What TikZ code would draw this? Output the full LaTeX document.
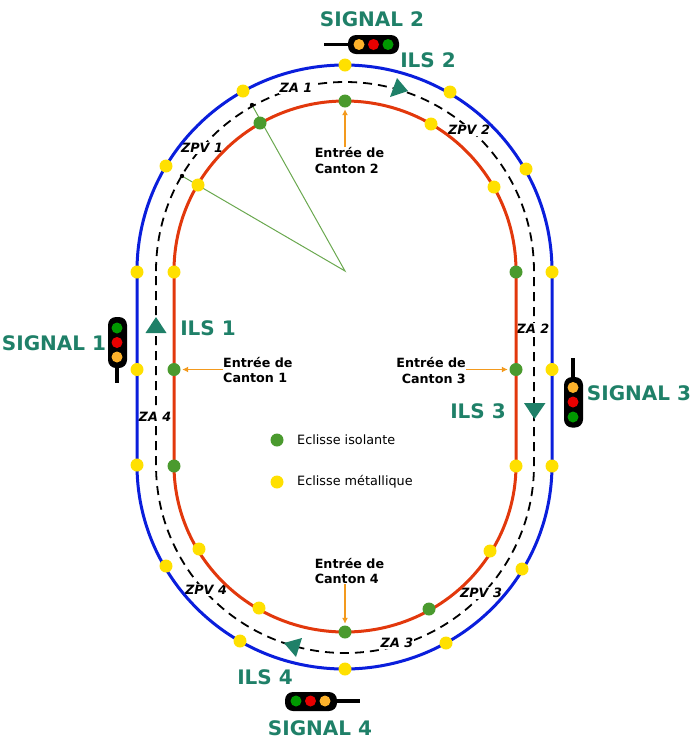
\documentclass[tikz,border=0pt]{standalone}
\usepackage{fontspec}
\setmainfont{DejaVu Sans}
\usepackage[HTML]{xcolor}
\usetikzlibrary{positioning, arrows, arrows.meta}
\definecolor{rail}{HTML}{E2380C}
\definecolor{voie}{HTML}{0A1EDC}
\definecolor{titre}{HTML}{1F8068}
\definecolor{isol}{HTML}{4A9A2E}
\definecolor{metal}{HTML}{FFE000}
\definecolor{fleche}{HTML}{F39A1E}
\definecolor{rayon}{HTML}{6AA84F}
\definecolor{feuO}{HTML}{FDB22B}
\definecolor{feuR}{HTML}{E80000}
\definecolor{feuV}{HTML}{009900}
\tikzset{
  iso/.style={circle,fill=isol,inner sep=0pt,minimum size=13pt},
  met/.style={circle,fill=metal,inner sep=0pt,minimum size=13pt},
  nomsig/.style={text=titre,font=\fontsize{20}{24}\selectfont\bfseries,inner sep=0pt},
  zone/.style={font=\fontsize{12.8}{14}\selectfont\bfseries\itshape,fill=white,inner sep=1pt},
  entree/.style={font=\fontsize{12.7}{15.5}\selectfont\bfseries,inner sep=0pt},
  legende/.style={font=\fontsize{12.8}{14}\selectfont,anchor=west,inner sep=0pt},
  entarrow/.style={fleche,line width=1.8pt,-{Latex[length=6pt,width=6pt]},shorten >=1.5pt},
}
\begin{document}
\begin{tikzpicture}[x=1pt,y=-1pt]
\useasboundingbox (0,0) rectangle (700,748);

% voie ZA, sous les etiquettes
\draw[black,line width=1.8pt,dash pattern=on 9pt off 6pt] (156,271) arc[start angle=180,end angle=360,x radius=189,y radius=189]
  -- (534,465) arc[start angle=0,end angle=180,x radius=189,y radius=188] -- cycle;

% zones
\node[zone] (za1) at (296,88) {ZA 1};
\node[zone] (za2) at (533,329) {ZA 2};
\node[zone] (za3) at (397,643) {ZA 3};
\node[zone] (za4) at (155,417) {ZA 4};
\node[zone] (zpv1) at (202,148) {ZPV 1};
\node[zone] (zpv2) at (469,130) {ZPV 2};
\node[zone] (zpv3) at (481,593) {ZPV 3};
\node[zone] (zpv4) at (206,590) {ZPV 4};

% voies
\draw[voie,line width=3pt] (137,271) arc[start angle=180,end angle=360,x radius=207.5,y radius=206]
  -- (552,465) arc[start angle=0,end angle=180,x radius=207.5,y radius=204] -- cycle;
\draw[rail,line width=3pt] (174,271) arc[start angle=180,end angle=360,x radius=171,y radius=170]
  -- (516,465) arc[start angle=0,end angle=180,x radius=171,y radius=167] -- cycle;

% rayons ZPV
\coordinate (C) at (345,271);
\coordinate (Z1) at (182,176);
\coordinate (Z2) at (252,105);
\draw[rayon,line width=1pt] (Z1) -- (C) -- (Z2);
\fill (Z1) circle(2.2);
\fill (Z2) circle(2.2);

% eclisses metalliques
\node[met] (B1) at (345,65) {};
\node[met] (B2) at (450,92) {};
\node[met] (B3) at (526,169) {};
\node[met] (B4) at (552,272) {};
\node[met] (B5) at (552,369.5) {};
\node[met] (B6) at (552,466) {};
\node[met] (B7) at (522,569) {};
\node[met] (B8) at (446,643) {};
\node[met] (B9) at (345,669) {};
\node[met] (B10) at (240,641) {};
\node[met] (B11) at (166,566) {};
\node[met] (B12) at (137,465) {};
\node[met] (B13) at (137,369.5) {};
\node[met] (B14) at (137,272) {};
\node[met] (B15) at (166,166) {};
\node[met] (B16) at (243,91) {};
\node[met] (R1) at (431,124) {};
\node[met] (R2) at (494,187) {};
\node[met] (R3) at (516,466) {};
\node[met] (R4) at (490,551) {};
\node[met] (R5) at (259,608) {};
\node[met] (R6) at (199,549) {};
\node[met] (R7) at (174,272) {};
\node[met] (R8) at (198,185) {};

% eclisses isolantes
\node[iso] (E1) at (174,369.5) {};
\node[iso] (E2) at (345,101) {};
\node[iso] (E3) at (516,369.5) {};
\node[iso] (E4) at (345,632) {};
\node[iso] (I1) at (260,123) {};
\node[iso] (I2) at (516,272) {};
\node[iso] (I3) at (429,609) {};
\node[iso] (I4) at (174,466) {};

% entrees de canton
\node[entree,align=left,anchor=west] (T1) at (223,370) {Entrée de\\Canton 1};
\node[entree,align=left] (T2) at (349.5,160.5) {Entrée de\\Canton 2};
\node[entree,align=right,anchor=east] (T3) at (466,370.5) {Entrée de\\Canton 3};
\node[entree,align=left] (T4) at (349.5,571) {Entrée de\\Canton 4};
\draw[entarrow] (T1.west |- E1) -- (E1);
\draw[entarrow] (T2.north -| E2) -- (E2);
\draw[entarrow] (T3.east |- E3) -- (E3);
\draw[entarrow] (T4.south -| E4) -- (E4);

% ILS
\fill[titre] (156,317) -- (166.5,333) -- (145.5,333) -- cycle;
\fill[titre] (397,78) -- (408,91) -- (390,97) -- cycle;
\fill[titre] (534.5,419) -- (524,403) -- (545.5,403) -- cycle;
\fill[titre] (284,643) -- (302,638) -- (296,657) -- cycle;
\node[nomsig] (ils1) at (208,328) {ILS 1};
\node[nomsig] (ils2) at (428,60) {ILS 2};
\node[nomsig] (ils3) at (478,411) {ILS 3};
\node[nomsig] (ils4) at (265,677) {ILS 4};

% signal 1
\draw[line width=3.5pt] (117,368) -- (117,383);
\fill[rounded corners=8pt] (108,317) rectangle (127,368);
\fill[feuV] (117,328) circle(5.5);
\fill[feuR] (117,342.5) circle(5.5);
\fill[feuO] (117,357) circle(5.5);
\node[nomsig] (sig1) at (54,343) {SIGNAL 1};

% signal 2
\draw[line width=3.5pt] (324,44.5) -- (348,44.5);
\fill[rounded corners=8pt] (348,35) rectangle (399,54);
\fill[feuO] (359,44.5) circle(5.5);
\fill[feuR] (373.5,44.5) circle(5.5);
\fill[feuV] (388,44.5) circle(5.5);
\node[nomsig] (sig2) at (372,19) {SIGNAL 2};

% signal 3
\draw[line width=3.5pt] (573,358) -- (573,377);
\fill[rounded corners=8pt] (564,377) rectangle (583,427.5);
\fill[feuO] (573,387.5) circle(5.5);
\fill[feuR] (573,402) circle(5.5);
\fill[feuV] (573,417) circle(5.5);
\node[nomsig] (sig3) at (639,393) {SIGNAL 3};

% signal 4
\draw[line width=3.5pt] (337,701) -- (360,701);
\fill[rounded corners=8pt] (285,692) rectangle (337,711);
\fill[feuV] (296,701) circle(5.5);
\fill[feuR] (310.5,701) circle(5.5);
\fill[feuO] (325,701) circle(5.5);
\node[nomsig] (sig4) at (320,728) {SIGNAL 4};

% legende
\node[iso] (L1) at (277,440) {};
\node[met] (L2) at (277,482) {};
\node[legende] (L1t) at (297,440) {Eclisse isolante};
\node[legende] (L2t) at (297,482) {Eclisse métallique};
\end{tikzpicture}
\end{document}
